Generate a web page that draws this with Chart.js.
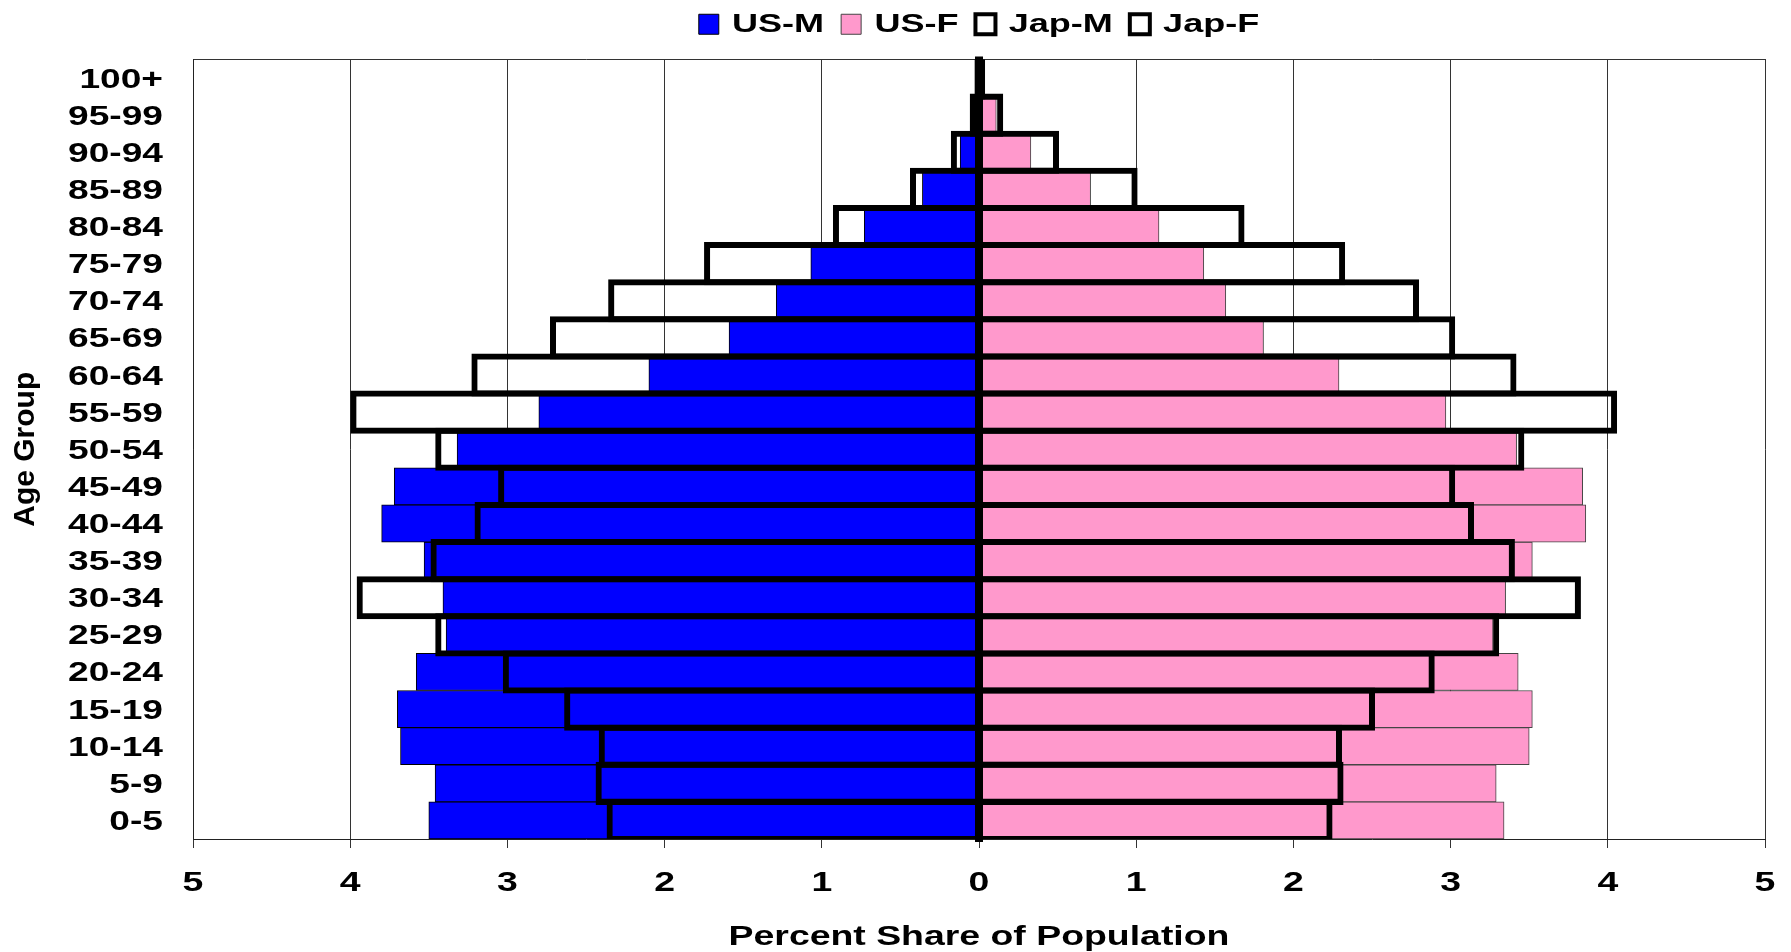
<!DOCTYPE html>
<html>
<head>
<meta charset="utf-8">
<title>Population Pyramid: US and Japan</title>
<script src="https://cdn.jsdelivr.net/npm/chart.js@4.4.0/dist/chart.umd.min.js"></script>
<style>
  html, body { margin: 0; padding: 0; background: #ffffff; }
  canvas { display: block; }
</style>
</head>
<body>
<canvas id="pyramid" width="1791" height="952"></canvas>
<script>
// Age bands, youngest first (drawn bottom to top)
const ageGroups = ['0-5', '5-9', '10-14', '15-19', '20-24', '25-29', '30-34', '35-39', '40-44',
  '45-49', '50-54', '55-59', '60-64', '65-69', '70-74', '75-79', '80-84', '85-89', '90-94',
  '95-99', '100+'];

// Percent share of each country's population in every band
const usMale      = [3.50, 3.46, 3.68, 3.70, 3.58, 3.39, 3.41, 3.53, 3.80, 3.72, 3.32, 2.80, 2.10,
  1.59, 1.29, 1.07, 0.73, 0.36, 0.12, 0.03, 0.005];
const usFemale    = [3.34, 3.29, 3.50, 3.52, 3.43, 3.27, 3.35, 3.52, 3.86, 3.84, 3.42, 2.97, 2.29,
  1.81, 1.57, 1.43, 1.145, 0.71, 0.33, 0.11, 0.02];
const japanMale   = [2.35, 2.42, 2.40, 2.62, 3.01, 3.44, 3.94, 3.47, 3.19, 3.04, 3.44, 3.98, 3.21,
  2.71, 2.34, 1.73, 0.91, 0.42, 0.16, 0.04, 0.01];
const japanFemale = [2.23, 2.30, 2.29, 2.50, 2.88, 3.29, 3.81, 3.39, 3.13, 3.01, 3.45, 4.04, 3.40,
  3.01, 2.78, 2.31, 1.67, 0.99, 0.49, 0.135, 0.02];

// Axis range (percent, mirrored about zero)
const shareMin = -5;
const shareMax = 5;
const shareStep = 1;

const FONT = "'Liberation Sans', Arial, Helvetica, sans-serif";
const TEXT_WIDEN = 1.36;   // upright labels use a horizontally widened bold face
const OUTLINE = 6;         // Japan outline thickness, centred on the bar edge

const legendKeys = [
  { fill: '#0000FF', stroke: '#000000', width: 1 },
  { fill: '#FF99CC', stroke: '#444444', width: 1 },
  { fill: '#FFFFFF', stroke: '#000000', width: 4 },
  { fill: '#FFFFFF', stroke: '#000000', width: 4 }
];

// Stretch upright text horizontally; rotated text is left as is.
function widenUprightText(ctx, factor) {
  const fill = ctx.fillText;
  const measure = ctx.measureText;
  ctx.fillText = function (text, x, y) {
    const t = this.getTransform();
    if (Math.abs(t.b) > 1e-6 || Math.abs(t.c) > 1e-6) {
      return fill.call(this, text, x, y);
    }
    this.save();
    this.translate(x, y);
    this.scale(factor, 1);
    fill.call(this, text, 0, 0);
    this.restore();
  };
  ctx.measureText = function (text) {
    const m = measure.call(this, text);
    return {
      width: m.width * factor,
      actualBoundingBoxAscent: m.actualBoundingBoxAscent,
      actualBoundingBoxDescent: m.actualBoundingBoxDescent,
      actualBoundingBoxLeft: m.actualBoundingBoxLeft * factor,
      actualBoundingBoxRight: m.actualBoundingBoxRight * factor
    };
  };
}

// Heavy spine where the male and female outlines meet at zero
const centreLine = {
  id: 'centreLine',
  afterDatasetsDraw(chart) {
    const { ctx, chartArea, scales } = chart;
    const x = scales.x.getPixelForValue(0);
    ctx.save();
    ctx.strokeStyle = '#000000';
    ctx.lineWidth = 8;
    ctx.beginPath();
    ctx.moveTo(x, chartArea.top - OUTLINE / 2);
    ctx.lineTo(x, chartArea.bottom + OUTLINE / 2);
    ctx.stroke();
    ctx.restore();
  }
};

const canvas = document.getElementById('pyramid');
const ctx = canvas.getContext('2d');
widenUprightText(ctx, TEXT_WIDEN);

const outlineStyle = {
  backgroundColor: 'rgba(0,0,0,0)',
  borderColor: '#000000',
  borderWidth: 0.01,
  inflateAmount: OUTLINE / 2,
  borderSkipped: false,
  order: 1
};

new Chart(ctx, {
  type: 'bar',
  data: {
    labels: ageGroups,
    datasets: [
      {
        label: 'US-M',
        data: usMale.map(v => -v),
        backgroundColor: '#0000FF',
        borderColor: '#000000',
        borderWidth: 1,
        borderSkipped: false,
        xAxisID: 'x',
        order: 2
      },
      {
        label: 'US-F',
        data: usFemale,
        backgroundColor: '#FF99CC',
        borderColor: '#444444',
        borderWidth: 1,
        borderSkipped: false,
        xAxisID: 'x',
        order: 2
      },
      Object.assign({ label: 'Jap-M', data: japanMale.map(v => -v), xAxisID: 'x' }, outlineStyle),
      Object.assign({ label: 'Jap-F', data: japanFemale, xAxisID: 'x' }, outlineStyle)
    ]
  },
  options: {
    indexAxis: 'y',
    responsive: false,
    animation: false,
    devicePixelRatio: 1,
    layout: { padding: { top: -6, right: 26, bottom: 0, left: 0 } },
    datasets: {
      bar: { barPercentage: 1, categoryPercentage: 1, grouped: false }
    },
    scales: {
      x: {
        type: 'linear',
        position: 'bottom',
        min: shareMin,
        max: shareMax,
        ticks: {
          stepSize: shareStep,
          padding: 19,
          color: '#000000',
          font: { family: FONT, size: 27.5, weight: 'bold' },
          callback: v => String(Math.abs(v))
        },
        grid: { color: '#333333', lineWidth: 1, drawTicks: true, tickLength: 9, tickColor: '#333333' },
        border: { display: true, color: '#222222', width: 1 },
        title: {
          display: true,
          text: 'Percent Share of Population',
          color: '#000000',
          font: { family: FONT, size: 27.5, weight: 'bold', lineHeight: 1 },
          padding: { top: 0, bottom: 1 }
        },
        afterFit: s => {
          s.height = 113;
          s.paddingLeft = 0;
          s.paddingRight = 0;
        }
      },
      x2: {
        type: 'linear',
        position: 'top',
        min: shareMin,
        max: shareMax,
        ticks: { display: false },
        grid: { display: false, drawTicks: false },
        border: { display: true, color: '#333333', width: 1 },
        afterFit: s => { s.height = 12; }
      },
      y: {
        type: 'category',
        position: 'left',
        reverse: true,
        grid: { display: false, drawTicks: false },
        border: { display: true, color: '#222222', width: 1 },
        ticks: {
          autoSkip: false,
          padding: 30,
          labelOffset: 2,
          color: '#000000',
          font: { family: FONT, size: 27.3, weight: 'bold' }
        },
        title: {
          display: true,
          text: 'Age Group',
          color: '#000000',
          font: { family: FONT, size: 30, weight: 'bold' },
          padding: { top: 8, bottom: 0 }
        },
        afterFit: s => { s.width = 193; }
      }
    },
    plugins: {
      legend: {
        position: 'top',
        fullSize: false,
        labels: {
          boxWidth: 20,
          boxHeight: 20,
          padding: 17,
          color: '#000000',
          font: { family: FONT, size: 26.5, weight: 'bold' },
          generateLabels: chart => chart.data.datasets.map((ds, i) => ({
            text: ds.label,
            datasetIndex: i,
            hidden: false,
            fillStyle: legendKeys[i].fill,
            strokeStyle: legendKeys[i].stroke,
            lineWidth: legendKeys[i].width
          }))
        }
      },
      tooltip: { enabled: false }
    }
  },
  plugins: [centreLine]
});
</script>
</body>
</html>
